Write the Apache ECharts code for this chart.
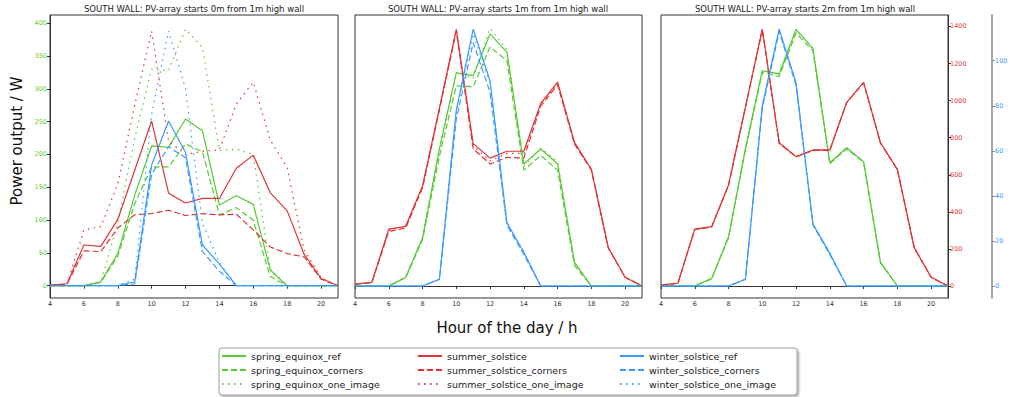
<!DOCTYPE html>
<html><head><meta charset="utf-8">
<script src="https://cdn.jsdelivr.net/npm/echarts@6/dist/echarts.min.js"></script>
<style>html,body{margin:0;padding:0;background:#fff}#c{width:1016px;height:397px}</style>
</head><body><div id="c"></div>
<script>
const hours = [4,5,6,7,8,9,10,11,12,13,14,15,16,17,18,19,20,21];
const xTicks = [4,6,8,10,12,14,16,18,20];
const greenTicks = [0,50,100,150,200,250,300,350,400];
const redTicks = [0,200,400,600,800,1000,1200,1400];
const blueTicks = [0,20,40,60,80,100];
const panelTitles = [
  'SOUTH WALL: PV-array starts 0m from 1m high wall',
  'SOUTH WALL: PV-array starts 1m from 1m high wall',
  'SOUTH WALL: PV-array starts 2m from 1m high wall'
];
const seriesNames = [
  'spring_equinox_ref','spring_equinox_corners','spring_equinox_one_image',
  'summer_solstice','summer_solstice_corners','summer_solstice_one_image',
  'winter_solstice_ref','winter_solstice_corners','winter_solstice_one_image'
];
const yTitle = 'Power output / W';
const xTitle = 'Hour of the day / h';

// Panel 1 (0m)
const p1_spring_ref     = [0,0,0,6,49,138,213,211,254,236,123,137,124,24,0,0,0,0];
const p1_spring_corners = [0,0,0,5,45,125,181,181,216,204,108,119,100,14,0,0,0,0];
const p1_spring_one     = [0,0,0,5,95,225,330,328,391,363,206,208,200,25,0,0,0,0];
const p1_summer_ref     = [1,3,62,60,101,176,251,141,126,133,133,179,199,142,114,48,11,0];
const p1_summer_corners = [1,2,53,52,88,108,110,115,107,110,108,109,85,59,49,44,10,0];
const p1_summer_one     = [1,2,85,90,155,275,388,220,200,205,207,277,310,222,180,55,12,0];
const p1_winter_ref     = [0,0,0,0,0,6,184,251,203,62,33,0,0,0,0,0,0,0];
const p1_winter_corners = [0,0,0,0,0,3,170,212,195,52,22,0,0,0,0,0,0,0];
const p1_winter_one     = [0,0,0,0,0,10,262,388,300,95,35,0,0,0,0,0,0,0];
// Panel 2 (1m)
const p2_spring_ref     = [0,0,0,47,259,740,1150,1135,1360,1260,658,739,658,128,0,0,0,0];
const p2_spring_corners = [0,0,0,45,250,700,1080,1075,1290,1215,625,705,625,110,0,0,0,0];
const p2_spring_one     = [0,0,0,47,262,745,1150,1120,1390,1275,645,745,670,125,0,0,0,0];
const p2_summer_ref     = [10,20,307,322,540,960,1385,768,690,727,727,985,1100,775,630,208,47,0];
const p2_summer_corners = [10,18,295,312,530,950,1375,740,658,694,690,970,1085,765,625,205,47,0];
const p2_summer_one     = [10,20,302,318,535,955,1380,755,675,715,715,978,1092,770,628,207,47,0];
const p2_winter_ref     = [0,0,0,0,0,3,78,114,91,28,15,0,0,0,0,0,0,0];
const p2_winter_corners = [0,0,0,0,0,3,74,108,86,27,14,0,0,0,0,0,0,0];
const p2_winter_one     = [0,0,0,0,0,3,77,112,90,28,15,0,0,0,0,0,0,0];
// Panel 3 (2m)
const p3_spring_ref     = [0,0,0,40,263,740,1162,1144,1385,1282,665,746,671,128,0,0,0,0];
const p3_spring_corners = [0,0,0,40,263,735,1152,1130,1365,1268,660,740,668,126,0,0,0,0];
const p3_spring_one     = [0,0,0,40,263,740,1160,1142,1382,1280,664,745,670,128,0,0,0,0];
const p3_summer_ref     = [5,15,307,320,545,965,1385,773,698,734,734,991,1099,773,629,207,47,0];
const p3_summer_corners = [5,15,305,318,543,963,1383,770,696,732,732,989,1097,771,628,206,47,0];
const p3_summer_one     = [5,15,306,319,544,964,1384,772,697,733,733,990,1098,772,629,207,47,0];
const p3_winter_ref     = [0,0,0,0,0,3,80,114,90,27.5,14.5,0,0,0,0,0,0,0];
const p3_winter_corners = [0,0,0,0,0,3,79,113,89,27,14,0,0,0,0,0,0,0];
const p3_winter_one     = [0,0,0,0,0,3,80,114,90,27.5,14.5,0,0,0,0,0,0,0];

const GREEN = '#58c936', RED = '#dd3535', BLUE = '#3a9bff';
const DASH = [6,3], DOT = [1.5,4.5];
const FONT = 'DejaVu Sans';

function mk(name, vals, gi, yi, color, type) {
  return {
    name, type: 'line', xAxisIndex: gi, yAxisIndex: yi,
    data: hours.map((h, i) => [h, vals[i]]),
    symbol: 'none', showSymbol: false, silent: true,
    lineStyle: { color, width: 1.2, type },
    itemStyle: { color }, emphasis: { disabled: true }
  };
}
function panel(gi, yRG, yB, d) {
  return [
    mk(seriesNames[0], d[0], gi, yRG, GREEN, 'solid'),
    mk(seriesNames[1], d[1], gi, yRG, GREEN, DASH),
    mk(seriesNames[2], d[2], gi, yRG, GREEN, DOT),
    mk(seriesNames[3], d[3], gi, yRG, RED, 'solid'),
    mk(seriesNames[4], d[4], gi, yRG, RED, DASH),
    mk(seriesNames[5], d[5], gi, yRG, RED, DOT),
    mk(seriesNames[6], d[6], gi, yB, BLUE, 'solid'),
    mk(seriesNames[7], d[7], gi, yB, BLUE, DASH),
    mk(seriesNames[8], d[8], gi, yB, BLUE, DOT)
  ];
}
const series = [].concat(
  panel(0, 0, 0, [p1_spring_ref,p1_spring_corners,p1_spring_one,p1_summer_ref,p1_summer_corners,p1_summer_one,p1_winter_ref,p1_winter_corners,p1_winter_one]),
  panel(1, 1, 2, [p2_spring_ref,p2_spring_corners,p2_spring_one,p2_summer_ref,p2_summer_corners,p2_summer_one,p2_winter_ref,p2_winter_corners,p2_winter_one]),
  panel(2, 3, 4, [p3_spring_ref,p3_spring_corners,p3_spring_one,p3_summer_ref,p3_summer_corners,p3_summer_one,p3_winter_ref,p3_winter_corners,p3_winter_one])
);

const gridTop = 15, gridH = 283;
const grids = [
  { left: 50, top: gridTop, width: 288, height: gridH },
  { left: 355, top: gridTop, width: 287, height: gridH },
  { left: 661, top: gridTop, width: 287, height: gridH }
].map(g => Object.assign(g, { show: true, borderColor: '#333', borderWidth: 1, containLabel: false }));

const plain = v => String(v);
function xAx(gi) {
  return {
    type: 'value', gridIndex: gi, min: 4, max: 21,
    axisLine: { show: true, lineStyle: { color: '#333', width: 1 } },
    axisTick: { show: true, length: 3, customValues: xTicks, lineStyle: { color: '#333' } },
    axisLabel: { customValues: xTicks, formatter: plain, fontSize: 6.5, color: '#333', margin: 2.5, fontFamily: FONT },
    splitLine: { show: false }
  };
}
const RED_MIN = -64.7, RED_MAX = 1462, BLUE_MIN = -5.33, BLUE_MAX = 120.3;
const yAxes = [
  { type: 'value', gridIndex: 0, position: 'left', min: -18.75, max: 412.6,
    axisLine: { show: true, lineStyle: { color: '#333' } },
    axisTick: { show: true, length: 3, customValues: greenTicks, lineStyle: { color: '#333' } },
    axisLabel: { customValues: greenTicks, formatter: plain, fontSize: 6.5, color: '#5ccf2e', margin: 3, fontFamily: FONT },
    splitLine: { show: false } },
  { type: 'value', gridIndex: 1, min: RED_MIN, max: RED_MAX, show: false, splitLine: { show: false } },
  { type: 'value', gridIndex: 1, min: BLUE_MIN, max: BLUE_MAX, show: false, splitLine: { show: false } },
  { type: 'value', gridIndex: 2, position: 'right', offset: 0, min: RED_MIN, max: RED_MAX,
    axisLine: { show: true, lineStyle: { color: '#333' } },
    axisTick: { show: true, length: 3, customValues: redTicks, lineStyle: { color: '#333' } },
    axisLabel: { customValues: redTicks, formatter: plain, fontSize: 6.5, color: '#e0403c', margin: 2, fontFamily: FONT },
    splitLine: { show: false } },
  { type: 'value', gridIndex: 2, position: 'right', offset: 44, min: BLUE_MIN, max: BLUE_MAX,
    axisLine: { show: true, lineStyle: { color: '#888', width: 1.5 } },
    axisTick: { show: true, length: 3, customValues: blueTicks, lineStyle: { color: '#888' } },
    axisLabel: { customValues: blueTicks, formatter: plain, fontSize: 6.5, color: '#3a9bff', margin: 3, fontFamily: FONT },
    splitLine: { show: false } }
];

function legendCol(left, names) {
  return {
    orient: 'vertical', left, top: 351, itemWidth: 24, itemHeight: 10, itemGap: 4, padding: 0,
    data: names, selectedMode: false, z: 10,
    itemStyle: { opacity: 0, borderWidth: 0 },
    textStyle: { fontSize: 9.5, color: '#222', fontFamily: FONT }
  };
}

const titleCenters = [194, 498, 805];
const graphics = panelTitles.map((t, i) => ({
  type: 'text', x: titleCenters[i], y: 8.5,
  style: { text: t, fill: '#222', fontSize: 8.5, fontFamily: FONT, textAlign: 'center', textVerticalAlign: 'middle' }
}));
graphics.push({
  type: 'text', x: 16.5, y: 141, rotation: Math.PI / 2,
  style: { text: yTitle, fill: '#111', fontSize: 15, fontFamily: FONT, textAlign: 'center', textVerticalAlign: 'middle' }
});
graphics.push({
  type: 'text', x: 507, y: 328,
  style: { text: xTitle, fill: '#111', fontSize: 15, fontFamily: FONT, textAlign: 'center', textVerticalAlign: 'middle' }
});
graphics.push({
  type: 'rect', z: -10,
  shape: { x: 219, y: 348, width: 578, height: 47, r: 3 },
  style: { fill: '#fff', stroke: '#a0a0a0', lineWidth: 1, shadowBlur: 2, shadowOffsetX: 1.5, shadowOffsetY: 1.5, shadowColor: 'rgba(0,0,0,0.35)' }
});

const chart = echarts.init(document.getElementById('c'), null, { renderer: 'svg', width: 1016, height: 397 });
chart.setOption({
  animation: false,
  backgroundColor: '#fff',
  grid: grids,
  xAxis: [xAx(0), xAx(1), xAx(2)],
  yAxis: yAxes,
  legend: [
    legendCol(221, seriesNames.slice(0, 3)),
    legendCol(417, seriesNames.slice(3, 6)),
    legendCol(619, seriesNames.slice(6, 9))
  ],
  graphic: graphics,
  series
});
</script></body></html>
